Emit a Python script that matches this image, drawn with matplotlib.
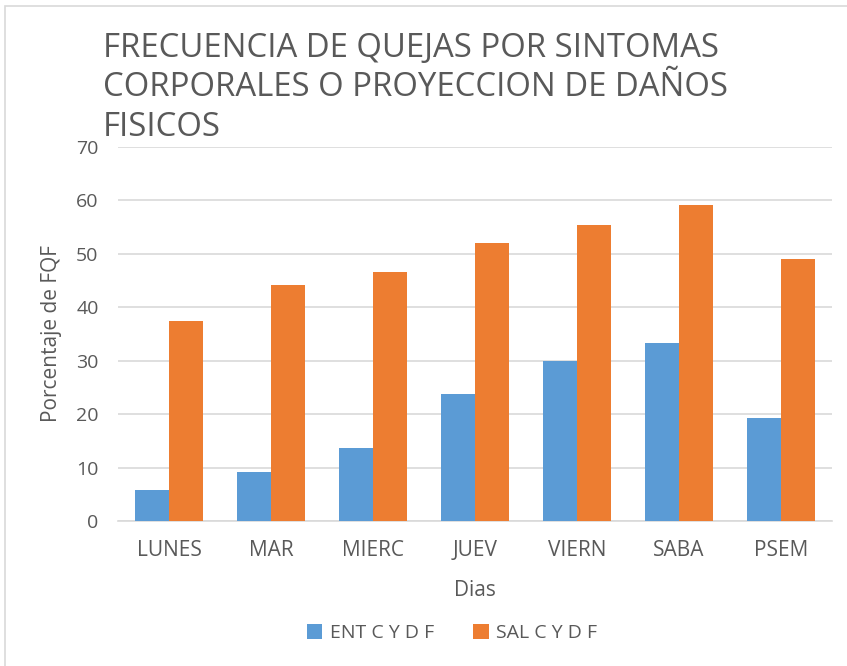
import numpy as np
import matplotlib.pyplot as plt
from matplotlib.patches import Rectangle

dias = ["LUNES", "MAR", "MIERC", "JUEV", "VIERN", "SABA", "PSEM"]
ent_cydf = [5.8, 9.1, 13.7, 23.7, 30.0, 33.3, 19.2]
sal_cydf = [37.5, 44.1, 46.6, 52.0, 55.4, 59.1, 49.1]

azul = "#5B9BD5"
naranja = "#ED7D31"
gris = "#595959"

plt.rcParams['font.family'] = ['Open Sans', 'DejaVu Sans']

fig = plt.figure(figsize=(8.47, 6.66), dpi=100)
ax = fig.add_axes([0.1393, 0.2177, 0.8427, 0.5616])

# borde del grafico
fig.patches.append(Rectangle((5 / 847, -0.1), 1.2, 1 - 6 / 666 + 0.1,
                             transform=fig.transFigure, fill=False,
                             edgecolor="#D9D9D9", lw=1.2))

x = np.arange(len(dias))
w = 1 / 3
ax.bar(x - w / 2, ent_cydf, w, color=azul, label="ENT C Y D F", zorder=3)
ax.bar(x + w / 2, sal_cydf, w, color=naranja, label="SAL C Y D F", zorder=3)

ax.set_xlim(-0.5, len(dias) - 0.5)
ax.set_ylim(0, 70)
ax.set_yticks(range(0, 71, 10))
ax.grid(axis="y", color="#D9D9D9", lw=1.2, zorder=0)
for s in ["top", "right", "left"]:
    ax.spines[s].set_visible(False)
ax.spines["bottom"].set_color("#D9D9D9")
ax.spines["bottom"].set_linewidth(1.2)
ax.tick_params(length=0, colors=gris, labelsize=14)
ax.tick_params(axis="x", pad=14, labelsize=15)
ax.tick_params(axis="y", pad=14)
ax.set_xticks(x)
ax.set_xticklabels(dias)

ax.set_xlabel("Dias", color=gris, fontsize=15, labelpad=13)
ax.set_ylabel("Porcentaje de FQF", color=gris, fontsize=15, labelpad=10)

fig.text(103 / 847, 1 - 32 / 666,
         "FRECUENCIA DE QUEJAS POR SINTOMAS\nCORPORALES O PROYECCION DE DAÑOS\nFISICOS",
         ha="left", va="top", fontsize=23.7, color=gris, linespacing=1.25)

fig.legend(loc="center", bbox_to_anchor=(452 / 847, 1 - 633 / 666), ncol=2,
           frameon=False, fontsize=14, labelcolor=gris, handlelength=0.8,
           handleheight=0.8, handletextpad=0.4, columnspacing=2.0)

fig.savefig("out.png", dpi=100)
